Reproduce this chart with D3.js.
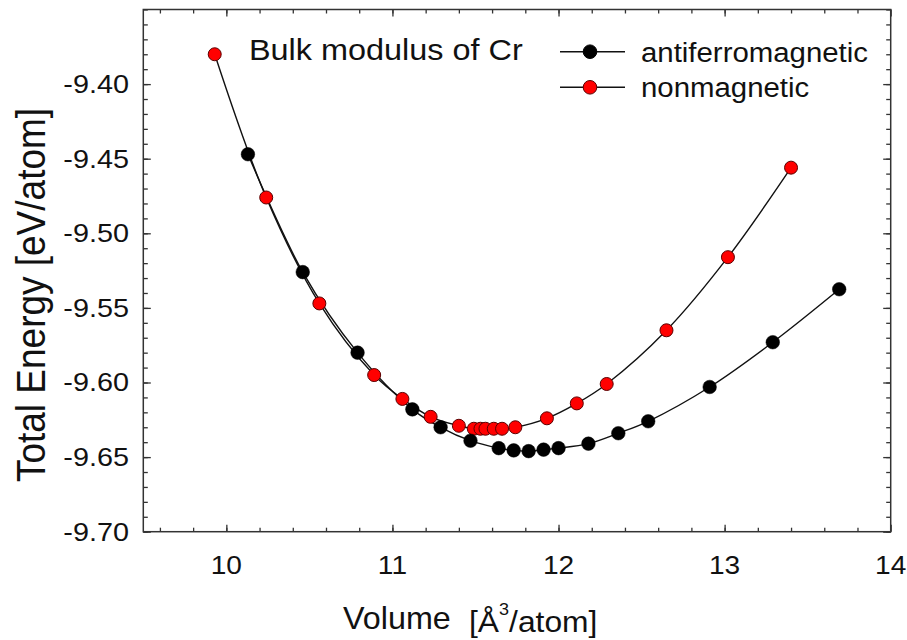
<!DOCTYPE html>
<html>
<head>
<meta charset="utf-8">
<script src="https://cdn.jsdelivr.net/npm/d3@7.9.0/dist/d3.min.js"></script>
<style>
  html, body { margin: 0; padding: 0; background: #fff; }
  svg { display: block; }
  text { font-family: "Liberation Sans", Arial, Helvetica, sans-serif; fill: #111; }
</style>
</head>
<body>
<svg id="chart" width="907" height="640"></svg>
<script>
// antiferromagnetic series
const afmVolume = [10.13, 10.46, 10.79, 11.12, 11.29, 11.47, 11.64, 11.73, 11.82, 11.91, 12.00, 12.18, 12.36, 12.54, 12.91, 13.29, 13.69];
const afmEnergy = [-9.447, -9.526, -9.580, -9.618, -9.630, -9.639, -9.644, -9.6455, -9.646, -9.645, -9.644, -9.641, -9.634, -9.626, -9.603, -9.573, -9.5375];

// nonmagnetic series
const nmVolume = [9.93, 10.24, 10.56, 10.89, 11.06, 11.23, 11.40, 11.49, 11.53, 11.56, 11.61, 11.66, 11.74, 11.93, 12.11, 12.29, 12.65, 13.02, 13.40];
const nmEnergy = [-9.380, -9.476, -9.547, -9.595, -9.611, -9.623, -9.629, -9.631, -9.631, -9.631, -9.631, -9.631, -9.630, -9.624, -9.614, -9.601, -9.565, -9.516, -9.456];

const xTicks = [10, 11, 12, 13, 14];
const yTicks = [-9.40, -9.45, -9.50, -9.55, -9.60, -9.65, -9.70];
const seriesNames = ['antiferromagnetic', 'nonmagnetic'];
const title = 'Bulk modulus of Cr';

const stretch = 1.08; // text in the picture is a bit wider than tall

const svg = d3.select('#chart');
const plotLeft = 143.3, plotRight = 890.7, plotTop = 9.5, plotBottom = 531.7;

const x = d3.scaleLinear().domain([9.5, 14]).range([plotLeft, plotRight]);
const y = d3.scaleLinear().domain([-9.70, -9.35]).range([plotBottom, plotTop]);

const xMinor = d3.range(9.6, 14, 0.2).map(v => +v.toFixed(1));
const yMinor = d3.range(-9.70, -9.345, 0.01).map(v => +v.toFixed(2));
const axisColor = '#333';

function tickAxis(g, axis) {
  g.call(axis);
  g.select('.domain').remove();
  g.selectAll('line').attr('stroke', axisColor).attr('stroke-width', 1.3);
  g.selectAll('text').remove();
}

// ticks on all four sides, pointing inward
svg.append('g').attr('transform', `translate(0,${plotBottom})`)
  .call(tickAxis, d3.axisBottom(x).tickValues(xMinor).tickSize(-4));
svg.append('g').attr('transform', `translate(0,${plotBottom})`)
  .call(tickAxis, d3.axisBottom(x).tickValues(xTicks).tickSize(-7));
svg.append('g').attr('transform', `translate(0,${plotTop})`)
  .call(tickAxis, d3.axisTop(x).tickValues(xMinor).tickSize(-4));
svg.append('g').attr('transform', `translate(0,${plotTop})`)
  .call(tickAxis, d3.axisTop(x).tickValues(xTicks).tickSize(-7));
svg.append('g').attr('transform', `translate(${plotLeft},0)`)
  .call(tickAxis, d3.axisLeft(y).tickValues(yMinor).tickSize(-4.5));
svg.append('g').attr('transform', `translate(${plotLeft},0)`)
  .call(tickAxis, d3.axisLeft(y).tickValues(yTicks).tickSize(-7.5));
svg.append('g').attr('transform', `translate(${plotRight},0)`)
  .call(tickAxis, d3.axisRight(y).tickValues(yMinor).tickSize(-4.5));
svg.append('g').attr('transform', `translate(${plotRight},0)`)
  .call(tickAxis, d3.axisRight(y).tickValues(yTicks).tickSize(-7.5));

svg.append('rect')
  .attr('x', plotLeft).attr('y', plotTop)
  .attr('width', plotRight - plotLeft).attr('height', plotBottom - plotTop)
  .attr('fill', 'none').attr('stroke', axisColor).attr('stroke-width', 1.5);

// tick labels
svg.append('g').selectAll('text').data(xTicks).join('text')
  .attr('transform', d => `translate(${x(d)},573.5) scale(${stretch},1)`)
  .attr('text-anchor', 'middle')
  .attr('font-size', 26)
  .text(d => d);

svg.append('g').selectAll('text').data(yTicks).join('text')
  .attr('transform', d => `translate(129,${y(d)}) scale(${stretch + 0.05},1)`)
  .attr('text-anchor', 'end')
  .attr('dy', '0.35em')
  .attr('font-size', 25.5)
  .text(d => d.toFixed(2));

// axis titles
svg.append('text')
  .attr('transform', `translate(45,295) scale(1.1,1) rotate(-90)`)
  .attr('text-anchor', 'middle')
  .attr('font-size', 37)
  .text('Total Energy [eV/atom]');

svg.append('text')
  .attr('transform', `translate(343,629) scale(1.06,1)`)
  .attr('font-size', 30.5)
  .text('Volume');

const unit = svg.append('text')
  .attr('transform', `translate(469,632) scale(1.06,1)`)
  .attr('font-size', 30);
unit.append('tspan').text('[Å');
unit.append('tspan').attr('font-size', 17).attr('dy', -17).text('3');
unit.append('tspan').attr('dy', 17).text('/atom]');

// curves
const afm = afmVolume.map((v, i) => [v, afmEnergy[i]]);
const nm = nmVolume.map((v, i) => [v, nmEnergy[i]]);

const line = d3.line()
  .x(d => x(d[0]))
  .y(d => y(d[1]))
  .curve(d3.curveCatmullRom.alpha(0.5));

svg.append('path').attr('d', line(nm))
  .attr('fill', 'none').attr('stroke', '#111').attr('stroke-width', 1.4);
svg.append('path').attr('d', line(afm))
  .attr('fill', 'none').attr('stroke', '#111').attr('stroke-width', 1.4);

svg.append('g').selectAll('circle').data(nm).join('circle')
  .attr('cx', d => x(d[0])).attr('cy', d => y(d[1]))
  .attr('r', 6.5)
  .attr('fill', '#ff0000').attr('stroke', '#5a0000').attr('stroke-width', 1);

svg.append('g').selectAll('circle').data(afm).join('circle')
  .attr('cx', d => x(d[0])).attr('cy', d => y(d[1]))
  .attr('r', 6.8)
  .attr('fill', '#000').attr('stroke', '#000').attr('stroke-width', 0.5);

// title and legend
svg.append('text')
  .attr('transform', `translate(249,60) scale(${stretch},1)`)
  .attr('font-size', 30)
  .text(title);

const legendRows = [
  { name: seriesNames[0], fill: '#000', stroke: '#000', y: 51.7 },
  { name: seriesNames[1], fill: '#ff0000', stroke: '#5a0000', y: 87.3 }
];
const legend = svg.append('g');
legendRows.forEach(r => {
  legend.append('line')
    .attr('x1', 560).attr('x2', 625).attr('y1', r.y).attr('y2', r.y)
    .attr('stroke', '#111').attr('stroke-width', 1.4);
  legend.append('circle')
    .attr('cx', 590).attr('cy', r.y).attr('r', 6.8)
    .attr('fill', r.fill).attr('stroke', r.stroke).attr('stroke-width', 1);
  legend.append('text')
    .attr('transform', `translate(641,${r.y + 10}) scale(1.05,1)`)
    .attr('font-size', 28)
    .text(r.name);
});
</script>
</body>
</html>
